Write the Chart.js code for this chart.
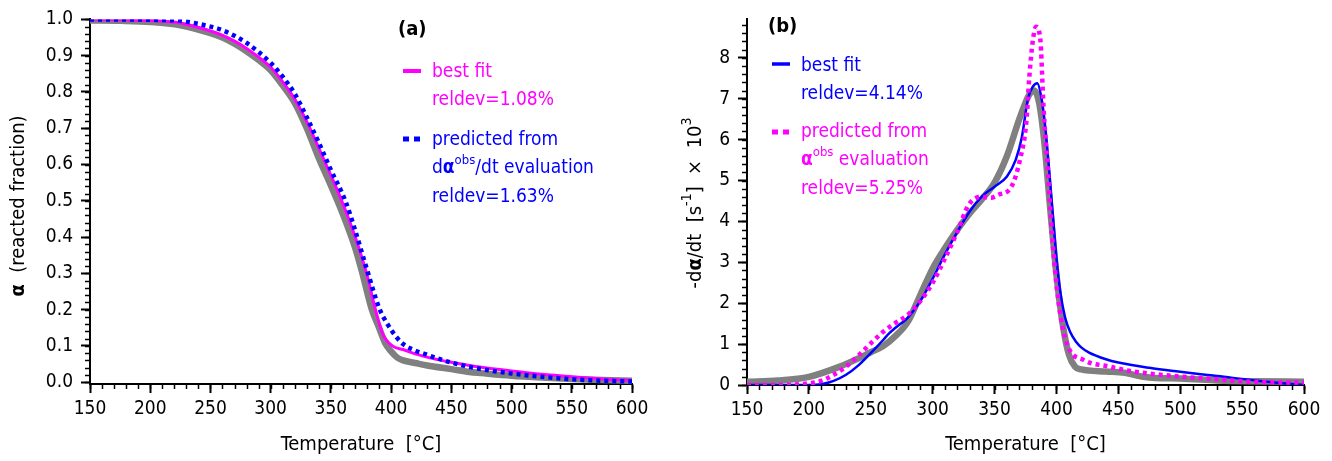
<!DOCTYPE html>
<html>
<head>
<meta charset="utf-8">
<script src="https://cdn.jsdelivr.net/npm/chart.js@4.4.1/dist/chart.umd.min.js"></script>
<style>
  html, body { margin: 0; padding: 0; background: #fff; }
  #wrap { position: relative; width: 1332px; height: 461px; overflow: hidden; }
  canvas { position: absolute; top: 0; }
</style>
</head>
<body>
<div id="wrap">
  <canvas id="ca" width="660" height="461" style="left:0;width:660px;height:461px"></canvas>
  <canvas id="cb" width="672" height="461" style="left:660px;width:672px;height:461px"></canvas>
</div>
<script>
// ---------------- DATA ----------------
// Panel (a): reacted fraction alpha vs temperature [°C]
const xTickLabels = [150, 200, 250, 300, 350, 400, 450, 500, 550, 600];
const yTickLabelsA = [0.0, 0.1, 0.2, 0.3, 0.4, 0.5, 0.6, 0.7, 0.8, 0.9, 1.0];
const yTickLabelsB = [0, 1, 2, 3, 4, 5, 6, 7, 8];

const tempA_obs = [150,175,200,225,250,260,270,280,290,300,310,320,330,340,350,360,370,376,384,390,395,400,405,410,420,430,450,465,475,500,525,550,575,600];
const alphaObs  = [0.997,0.996,0.993,0.984,0.962,0.950,0.933,0.912,0.888,0.860,0.818,0.77,0.70,0.617,0.542,0.463,0.372,0.302,0.200,0.150,0.108,0.085,0.068,0.060,0.053,0.046,0.036,0.028,0.025,0.018,0.013,0.009,0.006,0.004];

const tempA_fit = [150,175,200,225,250,260,270,280,290,300,310,320,330,340,350,359,370,380,387,393,401,410,420,435,450,465,475,500,525,550,575,600];
const alphaBestFit = [1.0,0.999,0.997,0.99,0.968,0.956,0.94,0.92,0.896,0.868,0.828,0.78,0.718,0.645,0.57,0.5,0.402,0.295,0.2,0.133,0.1,0.09,0.078,0.065,0.055,0.046,0.041,0.031,0.022,0.015,0.009,0.005];

const tempA_pred = [150,175,200,225,250,260,270,280,290,300,310,320,330,340,350,362,370,380,390,397,405,410,420,427,440,450,460,475,500,525,550,575,600];
const alphaPredicted = [1.0,1.0,0.999,0.996,0.98,0.97,0.955,0.935,0.91,0.88,0.842,0.795,0.73,0.66,0.585,0.5,0.42,0.31,0.205,0.16,0.122,0.105,0.087,0.079,0.064,0.054,0.046,0.036,0.024,0.015,0.008,0.004,0.002];

// Panel (b): -dalpha/dt [1/s] x 10^3 vs temperature [°C]
const tempB_obs = [150,175,200,225,240,250,260,270,280,290,300,310,320,330,340,350,360,370,378,382,386,390,395,400,405,410,415,420,440,455,470,480,500,530,560,600];
const rateObs   = [0.08,0.11,0.2,0.45,0.65,0.8,0.95,1.2,1.55,2.2,2.85,3.35,3.8,4.2,4.55,4.95,5.6,6.5,7.1,7.2,6.9,6.0,4.3,2.7,1.5,0.75,0.45,0.38,0.33,0.3,0.2,0.17,0.16,0.11,0.09,0.08];

const tempB_fit = [150,200,210,220,230,240,250,260,265,270,280,290,300,310,320,330,340,350,360,367,372,377,381,384.5,388,391,394,397,400,403,407,411,416,420,426,440,450,475,495,530,564,600];
const rateBestFit = [0,0,0.02,0.1,0.25,0.48,0.78,1.1,1.27,1.4,1.65,2.05,2.6,3.2,3.75,4.25,4.62,4.85,5.1,5.5,6.05,7.0,7.3,7.38,7.0,6.3,5.3,4.2,3.1,2.3,1.65,1.3,1.05,0.92,0.8,0.63,0.55,0.42,0.34,0.22,0.1,0.0];

const tempB_pred = [150,175,200,210,220,230,240,250,260,270,280,290,300,310,320,329,339,347,353,363.6,370.5,375.7,378,381,383.6,387,389.5,393,396.5,401.6,408.6,422,443,460,495,530,564,600];
const ratePredicted = [0,0,0.04,0.1,0.25,0.45,0.72,1.02,1.3,1.52,1.72,2.05,2.5,3.1,3.75,4.4,4.6,4.58,4.65,4.85,5.5,6.44,7.5,8.44,8.76,8.44,6.84,5.25,3.65,2.05,1.0,0.61,0.45,0.34,0.22,0.14,0.07,0.06];

// ---------------- STYLE ----------------
const FAM = '"DejaVu Sans Condensed", "DejaVu Sans", sans-serif';
const MAG = '#ff00ff', BLUE = '#0000ff', GRAY = '#808080';

function pts(xs, ys) { return xs.map((x, i) => ({ x: x, y: ys[i] })); }

function fontStr(style, size) {
  const sz = style === 's' ? Math.round(size * 0.7) : size;
  return (style === 'b' ? 'bold ' : '') + sz + 'px ' + FAM;
}
function richWidth(ctx, segs, size) {
  let w = 0;
  for (const s of segs) { ctx.font = fontStr(s[1], size); w += ctx.measureText(s[0]).width; }
  return w;
}
function drawRich(ctx, segs, x, y, size, color, align) {
  ctx.save();
  ctx.fillStyle = color;
  ctx.textBaseline = 'middle';
  ctx.textAlign = 'left';
  let cx = x;
  if (align === 'center') cx = x - richWidth(ctx, segs, size) / 2;
  for (const s of segs) {
    ctx.font = fontStr(s[1], size);
    const dy = s[1] === 's' ? -size * 0.42 : 0;
    ctx.fillText(s[0], cx, y + dy);
    cx += ctx.measureText(s[0]).width;
  }
  ctx.restore();
}

const decorPlugin = {
  id: 'decor',
  afterDraw(chart, args, o) {
    const ctx = chart.ctx;
    // minor ticks
    ctx.save();
    ctx.strokeStyle = '#000';
    ctx.lineWidth = 1.5;
    const xs = chart.scales.x, ys = chart.scales.y;
    const ca = chart.chartArea;
    for (let v = o.xMin; v <= o.xMax + 1e-9; v += o.xMinor) {
      const px = Math.round(xs.getPixelForValue(v)) + 0.5;
      ctx.beginPath(); ctx.moveTo(px, ca.bottom); ctx.lineTo(px, ca.bottom + 5); ctx.stroke();
    }
    for (let v = o.yMinorStart; v <= ys.max + 1e-9; v += o.yMinor) {
      const py = Math.round(ys.getPixelForValue(v)) + 0.5;
      ctx.beginPath(); ctx.moveTo(ca.left, py); ctx.lineTo(ca.left - 5, py); ctx.stroke();
    }
    ctx.restore();
    // axis titles
    drawRich(ctx, o.xTitle, o.xTitlePos[0], o.xTitlePos[1], 20, '#000', 'center');
    ctx.save();
    ctx.translate(o.yTitlePos[0], o.yTitlePos[1]);
    ctx.rotate(-Math.PI / 2);
    drawRich(ctx, o.yTitle, 0, 0, 20, '#000', 'center');
    ctx.restore();
    // panel label
    drawRich(ctx, [[o.panel, 'b']], o.panelPos[0], o.panelPos[1], 20, '#000', 'left');
    // legend
    for (const e of o.legend) {
      ctx.save();
      ctx.strokeStyle = e.color;
      ctx.lineWidth = e.width;
      ctx.setLineDash(e.dash || []);
      ctx.lineCap = 'butt';
      ctx.beginPath(); ctx.moveTo(e.sx[0], e.sy); ctx.lineTo(e.sx[1], e.sy); ctx.stroke();
      ctx.restore();
      e.rows.forEach((r, i) => drawRich(ctx, r, e.tx, e.ty + i * 28.5, 19, e.color, 'left'));
    }
  }
};

function makeChart(id, cfg) {
  const tickFont = { family: FAM, size: 19 };
  return new Chart(document.getElementById(id), {
    type: 'line',
    data: { datasets: cfg.datasets },
    plugins: [decorPlugin],
    options: {
      responsive: false,
      animation: false,
      devicePixelRatio: 1,
      layout: { padding: { left: 0, right: cfg.padRight, top: cfg.padTop, bottom: 0 } },
      elements: { point: { radius: 0 }, line: { cubicInterpolationMode: 'monotone' } },
      plugins: { legend: { display: false }, tooltip: { enabled: false }, decor: cfg.decor },
      scales: {
        x: {
          type: 'linear', min: 150, max: 600,
          afterBuildTicks: s => { s.ticks = xTickLabels.map(v => ({ value: v })); },
          afterFit: s => { s.height = cfg.xHeight; },
          ticks: { font: tickFont, color: '#000', padding: 5, maxRotation: 0, autoSkip: false, callback: v => String(v) },
          grid: { drawOnChartArea: false, drawTicks: true, tickLength: 9, tickColor: '#000', tickWidth: 2 },
          border: { display: true, color: '#000', width: 2 }
        },
        y: {
          type: 'linear', min: cfg.yMin, max: cfg.yMax,
          afterBuildTicks: s => { s.ticks = cfg.yTicks.map(v => ({ value: v })); },
          afterFit: s => { s.width = cfg.yWidth; },
          ticks: { font: tickFont, color: '#000', padding: 8, autoSkip: false, callback: cfg.yFmt },
          grid: { drawOnChartArea: false, drawTicks: true, tickLength: 9, tickColor: '#000', tickWidth: 2 },
          border: { display: true, color: '#000', width: 2 }
        }
      }
    }
  });
}

// Panel (a)
makeChart('ca', {
  padRight: 28, padTop: 14, xHeight: 77, yWidth: 90,
  yMin: -0.005, yMax: 1.0, yTicks: yTickLabelsA, yFmt: v => Number(v).toFixed(1),
  datasets: [
    { data: pts(tempA_obs, alphaObs), borderColor: GRAY, borderWidth: 6.5, order: 3 },
    { data: pts(tempA_fit, alphaBestFit), borderColor: MAG, borderWidth: 3, order: 2 },
    { data: pts(tempA_pred, alphaPredicted), borderColor: BLUE, borderWidth: 4.5, borderDash: [4, 4], order: 1 }
  ],
  decor: {
    xMin: 150, xMax: 600, xMinor: 10, yMinorStart: 0, yMinor: 0.02,
    xTitle: [['Temperature  [°C]', 'n']], xTitlePos: [361, 445],
    yTitle: [['α', 'b'], ['  (reacted fraction)', 'n']], yTitlePos: [19, 206],
    panel: '(a)', panelPos: [398, 30],
    legend: [
      { color: MAG, width: 4, sx: [403, 421], sy: 71, tx: 432, ty: 72,
        rows: [[['best fit', 'n']], [['reldev=1.08%', 'n']]] },
      { color: BLUE, width: 5, dash: [6, 5], sx: [403, 421], sy: 139, tx: 432, ty: 140,
        rows: [[['predicted from', 'n']], [['d', 'n'], ['α', 'b'], ['obs', 's'], ['/dt evaluation', 'n']], [['reldev=1.63%', 'n']]] }
    ]
  }
});

// Panel (b)
makeChart('cb', {
  padRight: 28, padTop: 13, xHeight: 76, yWidth: 87,
  yMin: 0, yMax: 8.94, yTicks: yTickLabelsB, yFmt: v => String(v),
  datasets: [
    { data: pts(tempB_obs, rateObs), borderColor: GRAY, borderWidth: 6.5, order: 3 },
    { data: pts(tempB_fit, rateBestFit), borderColor: BLUE, borderWidth: 2.5, order: 2 },
    { data: pts(tempB_pred, ratePredicted), borderColor: MAG, borderWidth: 4.5, borderDash: [4, 4], order: 1 }
  ],
  decor: {
    xMin: 150, xMax: 600, xMinor: 10, yMinorStart: 0, yMinor: 0.2,
    xTitle: [['Temperature  [°C]', 'n']], xTitlePos: [365.5, 445],
    yTitle: [['-d', 'n'], ['α', 'b'], ['/dt  [s', 'n'], ['-1', 's'], [']  ×  10', 'n'], ['3', 's']], yTitlePos: [36, 203],
    panel: '(b)', panelPos: [108, 27],
    legend: [
      { color: BLUE, width: 3.5, sx: [112, 130], sy: 64, tx: 141, ty: 66,
        rows: [[['best fit', 'n']], [['reldev=4.14%', 'n']]] },
      { color: MAG, width: 5, dash: [6, 5], sx: [112, 130], sy: 132, tx: 141, ty: 132,
        rows: [[['predicted from', 'n']], [['α', 'b'], ['obs', 's'], [' evaluation', 'n']], [['reldev=5.25%', 'n']]] }
    ]
  }
});
</script>
</body>
</html>
